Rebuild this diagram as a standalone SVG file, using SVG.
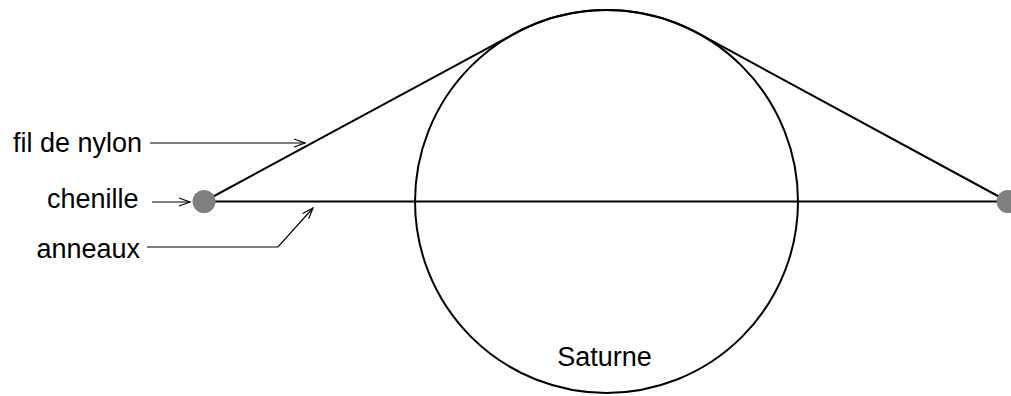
<svg xmlns="http://www.w3.org/2000/svg" width="1011" height="396" viewBox="0 0 1011 396">
<style>
.t{font-family:"Liberation Sans",Arial,sans-serif;font-size:27px;fill:#000}
.ln{fill:none;stroke:#000;stroke-width:2}
.pt{fill:none;stroke:#000;stroke-width:1.2}
.dot{fill:#808080}
</style>
<defs>
<marker id="ah" markerWidth="14" markerHeight="10" refX="12" refY="5" orient="auto" markerUnits="userSpaceOnUse">
<path d="M1 1 L12 5 L1 9" fill="none" stroke="#000" stroke-width="1.2"/>
</marker>
</defs>
<rect width="1011" height="396" fill="#fff"/>
<g id="saturne">
<circle class="ln" cx="606.5" cy="201.5" r="191.5"/>
<text class="t" x="604.5" y="366" text-anchor="middle">Saturne</text>
</g>
<g id="anneaux-line">
<line class="ln" x1="204" y1="201.5" x2="1008" y2="201.5"/>
</g>
<g id="fil">
<path class="ln" d="M204 201.5 L515.4 33.1 A191.5 191.5 0 0 1 697.8 33.2 L1008 201.5"/>
</g>
<g id="chenille-left"><circle class="dot" cx="204" cy="201.5" r="11.5"/></g>
<g id="chenille-right"><circle class="dot" cx="1008" cy="201.5" r="11.5"/></g>
<g id="labels">
<text class="t" x="142" y="151.5" text-anchor="end">fil de nylon</text>
<text class="t" x="138.5" y="207.5" text-anchor="end">chenille</text>
<text class="t" x="140" y="258" text-anchor="end">anneaux</text>
</g>
<g id="connectors">
<path class="pt" d="M150 143 L305 143" marker-end="url(#ah)"/>
<path class="pt" d="M152 202 L190 202" marker-end="url(#ah)"/>
<path class="pt" d="M147 247 L278 247 L313 208" marker-end="url(#ah)"/>
</g>
</svg>
